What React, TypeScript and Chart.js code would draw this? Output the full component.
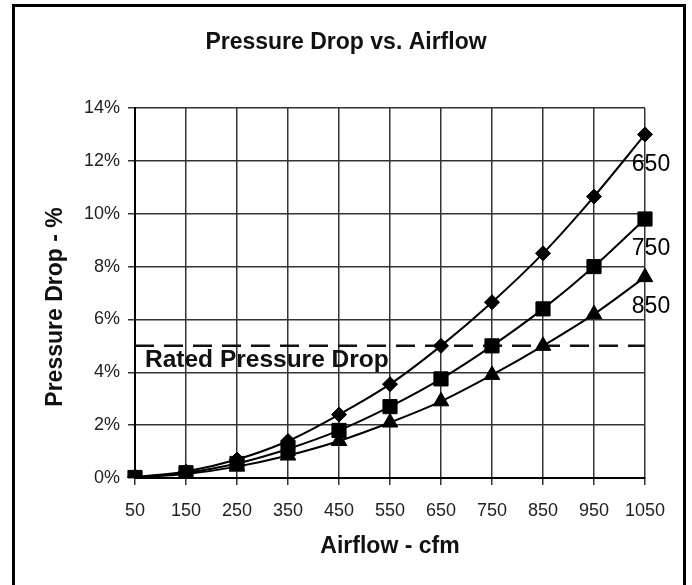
import React, { useEffect, useRef } from 'react';
import { Chart, registerables } from 'chart.js';

Chart.register(...registerables);

const AIRFLOW_CFM = ['50', '150', '250', '350', '450', '550', '650', '750', '850', '950', '1050'];
const DROP_650 = [0.03, 0.25, 0.7, 1.4, 2.4, 3.55, 5.0, 6.65, 8.5, 10.65, 13.0];
const DROP_750 = [0.02, 0.2, 0.55, 1.1, 1.8, 2.7, 3.75, 5.0, 6.4, 8.0, 9.8];
const DROP_850 = [0.02, 0.15, 0.43, 0.85, 1.4, 2.1, 2.9, 3.9, 5.0, 6.2, 7.6];
const RATED_DROP = 5;
const RATED_LABEL = 'Rated Pressure Drop';
const SERIES_NAMES = ['650', '750', '850'];
const CHART_TITLE = 'Pressure Drop vs. Airflow';
const X_TITLE = 'Airflow - cfm';
const Y_TITLE = 'Pressure Drop - %';
const Y_MIN = 0;
const Y_MAX = 14;
const Y_STEP = 2;

const FONT = '"Liberation Sans", Arial, sans-serif';

const overlayPlugin = {
  id: 'overlay',
  afterDraw(chart: any) {
    const { ctx } = chart;
    const xs = chart.scales.x;
    const ys = chart.scales.y;
    ctx.save();
    ctx.fillStyle = '#111';
    ctx.textBaseline = 'middle';
    // chart title
    ctx.font = `bold 23px ${FONT}`;
    ctx.textAlign = 'center';
    ctx.fillText(CHART_TITLE, chart.width / 2, 43);
    // x title
    ctx.fillText(X_TITLE, (xs.left + xs.right) / 2, 547);
    // y title
    ctx.save();
    ctx.translate(56, (ys.top + ys.bottom) / 2 + 14);
    ctx.rotate(-Math.PI / 2);
    ctx.fillText(Y_TITLE, 0, 0);
    ctx.restore();
    // rated label
    ctx.font = `bold 24.5px ${FONT}`;
    ctx.textAlign = 'left';
    ctx.fillText(RATED_LABEL, xs.left + 10, ys.getPixelForValue(RATED_DROP) + 14);
    // series labels
    ctx.fillStyle = '#000';
    ctx.font = `23px ${FONT}`;
    ctx.textAlign = 'center';
    for (let i = 0; i < 3; i++) {
      const meta = chart.getDatasetMeta(i);
      const pt = meta.data[meta.data.length - 1];
      ctx.fillText(SERIES_NAMES[i], pt.x + 6, pt.y + 30);
    }
    // frame
    ctx.strokeStyle = '#000';
    ctx.lineWidth = 3;
    ctx.beginPath();
    ctx.moveTo(13.5, 585);
    ctx.lineTo(13.5, 5.5);
    ctx.lineTo(684.5, 5.5);
    ctx.lineTo(684.5, 585);
    ctx.stroke();
    ctx.restore();
  },
};

export default function App() {
  const ref = useRef<HTMLCanvasElement | null>(null);
  useEffect(() => {
    document.body.style.margin = '0';
    const canvas = ref.current!;
    const seriesCommon = {
      borderColor: '#000',
      backgroundColor: '#000',
      borderWidth: 2,
      pointBorderWidth: 1,
      pointBorderColor: '#000',
      pointBackgroundColor: '#000',
      tension: 0.3,
    };
    const chart = new Chart(canvas, {
      type: 'line',
      data: {
        labels: AIRFLOW_CFM,
        datasets: [
          { ...seriesCommon, label: SERIES_NAMES[0], data: DROP_650, pointStyle: 'rectRot', pointRadius: 7.5 },
          { ...seriesCommon, label: SERIES_NAMES[1], data: DROP_750, pointStyle: 'rect', pointRadius: 10 },
          { ...seriesCommon, label: SERIES_NAMES[2], data: DROP_850, pointStyle: 'triangle', pointRadius: 9 },
          {
            label: RATED_LABEL,
            data: AIRFLOW_CFM.map(() => RATED_DROP),
            borderColor: '#111',
            borderWidth: 2.5,
            borderDash: [19, 10],
            pointRadius: 0,
            tension: 0,
          },
        ],
      },
      options: {
        responsive: false,
        animation: false,
        layout: { padding: { left: 0, right: 47, top: 108, bottom: 0 } },
        plugins: {
          legend: { display: false },
          tooltip: { enabled: false },
          title: { display: false },
        },
        scales: {
          x: {
            type: 'category',
            offset: false,
            afterFit(scale: any) {
              scale.height = 107;
            },
            grid: { color: '#333', lineWidth: 1.5, drawTicks: true, tickLength: 7, tickColor: '#333' },
            border: { color: '#000', width: 2 },
            ticks: {
              color: '#222',
              font: { family: FONT, size: 18 },
              padding: 15,
              maxRotation: 0,
              autoSkip: false,
            },
            title: { display: false },
          },
          y: {
            min: Y_MIN,
            max: Y_MAX,
            afterFit(scale: any) {
              scale.width = 135;
            },
            grid: { color: '#333', lineWidth: 1.5, drawTicks: true, tickLength: 7, tickColor: '#333' },
            border: { color: '#000', width: 2 },
            ticks: {
              stepSize: Y_STEP,
              color: '#222',
              font: { family: FONT, size: 18 },
              padding: 8,
              callback: (v: any) => `${v}%`,
            },
            title: { display: false },
          },
        },
      },
      plugins: [overlayPlugin],
    });
    return () => chart.destroy();
  }, []);
  return (
    <div style={{ width: 692, height: 585, background: '#fff' }}>
      <canvas ref={ref} width={692} height={585} style={{ display: 'block' }} />
    </div>
  );
}
